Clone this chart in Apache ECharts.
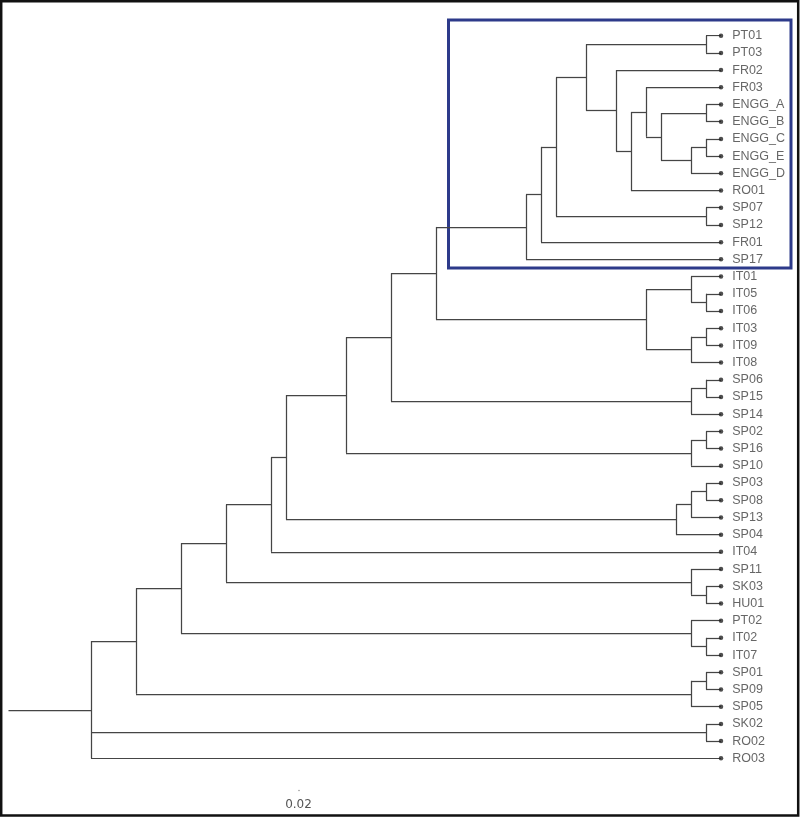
<!DOCTYPE html>
<html>
<head>
<meta charset="utf-8">
<script src="https://cdn.jsdelivr.net/npm/echarts@6/dist/echarts.min.js"></script>
<style>
html,body{margin:0;padding:0;background:#fff;}
#chart{width:800px;height:817px;}
</style>
</head>
<body>
<div id="chart"></div>
<script>
// Leaves, top to bottom, with their parent node
const leafNames = ["PT01","PT03","FR02","FR03","ENGG_A","ENGG_B","ENGG_C","ENGG_E","ENGG_D","RO01",
  "SP07","SP12","FR01","SP17","IT01","IT05","IT06","IT03","IT09","IT08",
  "SP06","SP15","SP14","SP02","SP16","SP10","SP03","SP08","SP13","SP04",
  "IT04","SP11","SK03","HU01","PT02","IT02","IT07","SP01","SP09","SP05",
  "SK02","RO02","RO03"];
const leafParents = ["pt","pt","b4","b6","eab","eab","ece","ece","b8","b5",
  "sp712","sp712","b1","b0","it1","it56","it56","it39","it39","it3",
  "s615","s615","s6","s216","s216","s2","s38","s38","s313","s3",
  "n4","s11","skhu","skhu","pt2","it27","it27","s19","s19","s1",
  "skro","skro","n0"];
const leafDepth = 0.042;

// Internal nodes: id, parent, depth from root
const nodeIds =     ["n0","n1","n2","n3","n4","n5","n6","n7","n8",
  "b0","b1","b2","b3","pt","b4","b5","b6","b7","eab","b8","ece","sp712",
  "it","it1","it56","it3","it39","s6","s615","s2","s216","s3","s313","s38",
  "s11","skhu","pt2","it27","s1","s19","skro"];
const nodeParents = [null,"n0","n1","n2","n3","n4","n5","n6","n7",
  "n8","b0","b1","b2","b3","b3","b4","b5","b6","b7","b7","b8","b2",
  "n8","it","it1","it","it3","n7","s6","n6","s2","n5","s3","s313",
  "n3","s11","n2","pt2","n1","s1","n0"];
const nodeDepths =  [0,0.003,0.006,0.009,0.012,0.013,0.017,0.020,0.023,
  0.029,0.030,0.031,0.033,0.041,0.035,0.036,0.037,0.038,0.041,0.040,0.041,0.041,
  0.037,0.040,0.041,0.040,0.041,0.040,0.041,0.040,0.041,0.039,0.040,0.041,
  0.040,0.041,0.040,0.041,0.040,0.041,0.041];
const rootStemStart = -0.0055;

// ---- build geometry in data space ----
const nodes = {};
nodeIds.forEach((id, i) => { nodes[id] = {x: nodeDepths[i], parent: nodeParents[i], kids: []}; });
leafNames.forEach((nm, i) => { nodes['leaf:' + nm] = {x: leafDepth, y: i, parent: leafParents[i], kids: []}; });
Object.keys(nodes).forEach(k => { const p = nodes[k].parent; if (p) nodes[p].kids.push(k); });
function yOf(k) {
  const n = nodes[k];
  if (n.y !== undefined) return n.y;
  let s = 0; n.kids.forEach(c => { s += yOf(c); });
  n.y = s / n.kids.length;
  return n.y;
}
yOf('n0');
const segs = [];
Object.keys(nodes).forEach(k => {
  const n = nodes[k];
  if (n.kids.length) {
    const ys = n.kids.map(c => nodes[c].y);
    segs.push({coords: [[n.x, Math.min(...ys)], [n.x, Math.max(...ys)]]});
  }
  if (n.parent) {
    segs.push({coords: [[nodes[n.parent].x, n.y], [n.x, n.y]]});
  } else {
    segs.push({coords: [[rootStemStart, n.y], [n.x, n.y]]});
  }
});
const leafPoints = leafNames.map((nm, i) => ({name: nm, value: [leafDepth, i]}));

const chart = echarts.init(document.getElementById('chart'), null, {renderer: 'canvas'});
chart.setOption({
  animation: false,
  backgroundColor: '#ffffff',
  grid: {left: 8.5, right: 79, top: 35.7, bottom: 58.7},
  xAxis: {type: 'value', min: rootStemStart, max: leafDepth, show: false},
  yAxis: {type: 'value', min: 0, max: 42, inverse: true, show: false},
  series: [
    {
      type: 'lines',
      coordinateSystem: 'cartesian2d',
      silent: true,
      lineStyle: {color: '#454545', width: 1.25, opacity: 1},
      data: segs
    },
    {
      type: 'scatter',
      symbol: 'circle',
      symbolSize: 4.5,
      itemStyle: {color: '#222'},
      silent: true,
      label: {
        show: true, position: 'right', distance: 9,
        formatter: p => p.name,
        fontFamily: 'Liberation Sans, Arial, sans-serif',
        fontSize: 12.5, color: '#404040'
      },
      data: leafPoints
    }
  ],
  graphic: [
    {type: 'rect', silent: true, shape: {x: 1.2, y: 1.2, width: 797, height: 814.3},
      style: {fill: 'none', stroke: '#111', lineWidth: 2.5}},
    {type: 'rect', silent: true, shape: {x: 448.5, y: 20, width: 342.5, height: 248},
      style: {fill: 'none', stroke: '#2d3a8a', lineWidth: 3}},
    {type: 'circle', silent: true, shape: {cx: 299, cy: 790.5, r: 0.8}, style: {fill: '#999'}},
    {type: 'text', silent: true, x: 298.5, y: 804.5,
      style: {text: '0.02', fontFamily: 'DejaVu Sans, sans-serif', fontSize: 12, fill: '#555',
        align: 'center', verticalAlign: 'middle'}}
  ]
});
</script>
</body>
</html>
